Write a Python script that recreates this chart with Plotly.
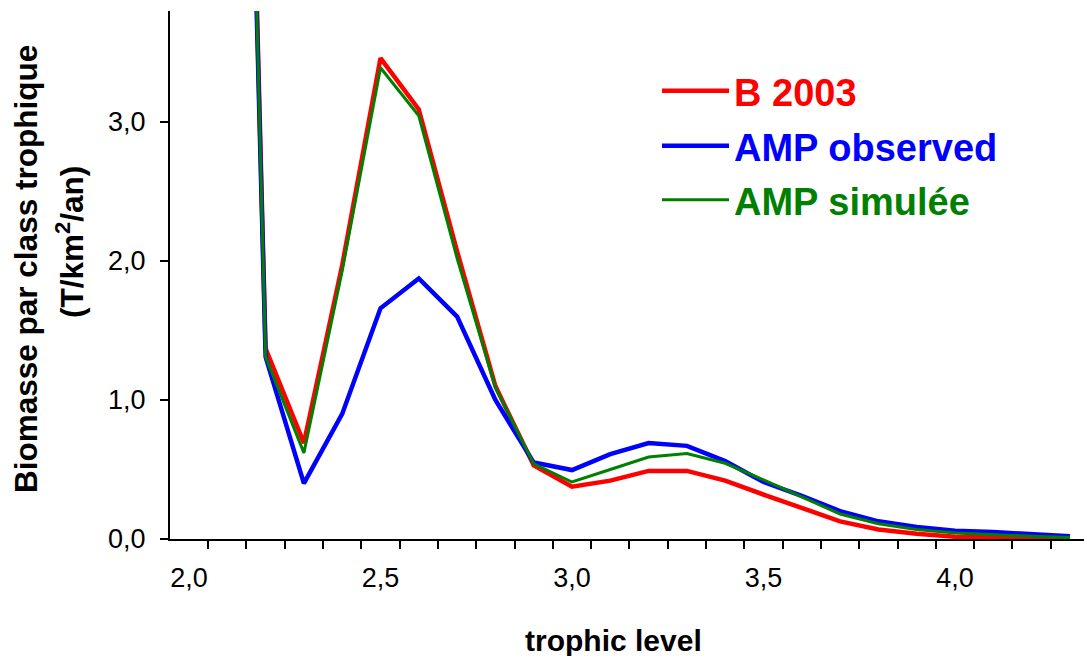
import plotly.graph_objects as go

# Trophic level categories (0.1 classes)
trophic_levels = [2.1, 2.2, 2.3, 2.4, 2.5, 2.6, 2.7, 2.8, 2.9, 3.0, 3.1, 3.2,
                  3.3, 3.4, 3.5, 3.6, 3.7, 3.8, 3.9, 4.0, 4.1, 4.2, 4.3]

b_2003 = [12.2, 1.37, 0.69, 1.97, 3.46, 3.09, 2.07, 1.10, 0.53, 0.377, 0.42, 0.49,
          0.49, 0.42, 0.32, 0.22, 0.127, 0.068, 0.037, 0.016, 0.01, 0.005, 0.0]

amp_observed = [12.0, 1.31, 0.40, 0.90, 1.66, 1.875, 1.60, 1.00, 0.55, 0.496, 0.61, 0.69,
                0.67, 0.56, 0.41, 0.31, 0.20, 0.127, 0.087, 0.06, 0.05, 0.037, 0.02]

amp_simulee = [12.1, 1.31, 0.62, 1.93, 3.39, 3.045, 2.02, 1.09, 0.54, 0.41, 0.50, 0.59,
               0.615, 0.545, 0.425, 0.30, 0.18, 0.11, 0.068, 0.044, 0.03, 0.02, 0.01]

x_tickvals = [2.0, 2.5, 3.0, 3.5, 4.0]
x_ticktext = ["2,0", "2,5", "3,0", "3,5", "4,0"]
y_tickvals = [0, 1, 2, 3]
y_ticktext = ["0,0", "1,0", "2,0", "3,0"]

FONT = "Arial, Liberation Sans, sans-serif"

fig = go.Figure()
fig.add_trace(go.Scatter(x=trophic_levels, y=b_2003, mode="lines", name="B 2003",
                         line=dict(color="#FF0000", width=4.5), legend="legend"))
fig.add_trace(go.Scatter(x=trophic_levels, y=amp_observed, mode="lines", name="AMP observed",
                         line=dict(color="#0000FF", width=4.5), legend="legend2"))
fig.add_trace(go.Scatter(x=trophic_levels, y=amp_simulee, mode="lines", name="AMP simulée",
                         line=dict(color="#008000", width=3), legend="legend3"))

W, H = 1084, 656
L, R, T, B = 170, 0, 11, 117
pw, ph = W - L - R, H - T - B

def px(xp):
    return (xp - L) / pw

def py(yp):
    return (H - B - yp) / ph

def leg(color, ycen):
    return dict(x=px(657), y=py(ycen), xanchor="left", yanchor="middle",
                bgcolor="rgba(0,0,0,0)", borderwidth=0, itemwidth=67,
                font=dict(family=FONT, size=38, color=color, weight="bold"))

fig.update_layout(
    width=W, height=H,
    margin=dict(l=L, r=R, t=T, b=B, pad=0),
    paper_bgcolor="white", plot_bgcolor="white",
    font=dict(family=FONT, color="black"),
    showlegend=True,
    legend=leg("#FF0000", 91),
    legend2=leg("#0000FF", 146),
    legend3=leg("#008000", 200),
    xaxis=dict(
        range=[1.9504, 4.3368], showgrid=False, zeroline=False,
        showline=True, linecolor="black", linewidth=2,
        tickmode="array", tickvals=x_tickvals, ticktext=x_ticktext,
        ticks="", tickfont=dict(family=FONT, size=27, color="black"),
        ticklabelstandoff=14,
        minor=dict(ticks="outside", tick0=1.95, dtick=0.1, ticklen=8,
                   tickwidth=2, tickcolor="black", showgrid=False),
    ),
    yaxis=dict(
        range=[0, 528 / 139], showgrid=False, zeroline=False,
        showline=True, linecolor="black", linewidth=2,
        tickmode="array", tickvals=y_tickvals, ticktext=y_ticktext,
        ticks="outside", ticklen=8, tickwidth=2, tickcolor="black",
        tickfont=dict(family=FONT, size=27, color="black"),
        ticklabelstandoff=9,
    ),
    annotations=[
        dict(text="trophic level", xref="paper", yref="paper",
             x=px(613), y=py(640), xanchor="center", yanchor="middle",
             showarrow=False, font=dict(family=FONT, size=30, color="black", weight="bold")),
        dict(text="Biomasse par class trophique", xref="paper", yref="paper",
             x=px(26), y=py(269), xanchor="center", yanchor="middle", textangle=-90,
             showarrow=False, font=dict(family=FONT, size=31.5, color="black", weight="bold")),
        dict(text="(T/km<sup>2</sup>/an)", xref="paper", yref="paper",
             x=px(70), y=py(242), xanchor="center", yanchor="middle", textangle=-90,
             showarrow=False, font=dict(family=FONT, size=31.5, color="black", weight="bold")),
    ],
)

fig.write_html("out.html")
